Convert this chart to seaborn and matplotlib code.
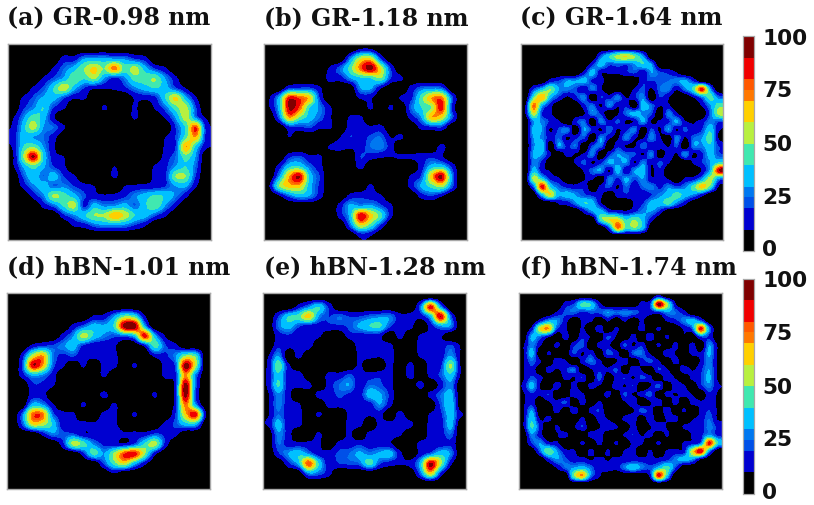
import numpy as np
import matplotlib
matplotlib.use("Agg")
import matplotlib.pyplot as plt
from matplotlib.colors import ListedColormap, BoundaryNorm
import seaborn as sns

titles = ["(a) GR-0.98 nm", "(b) GR-1.18 nm", "(c) GR-1.64 nm",
          "(d) hBN-1.01 nm", "(e) hBN-1.28 nm", "(f) hBN-1.74 nm"]
levels = [0, 10, 20, 25, 30, 40, 50, 60, 70, 75, 80, 90, 100]
level_colors = ["#000000", "#0000d0", "#0050e8", "#0078f0", "#00c0ff", "#40e8b0",
                "#b8f040", "#ffd000", "#ff7800", "#ff5800", "#f00000", "#800000"]
cbar_labels = ["0", "25", "50", "75", "100"]

Z = [0] * 20
Z24 = [0] * 24

panel_a = [
 Z,
 [0,0,0,0,0,15,15,30,32,32,30,28,20,15,0,0,0,0,0,0],
 [0,0,0,0,12,25,35,50,62,50,75,45,55,35,20,12,0,0,0,0],
 [0,0,0,12,22,32,48,42,52,30,18,28,45,45,50,30,14,0,0,0],
 [0,0,12,22,40,58,35,20,12,12,12,18,28,35,40,35,22,10,0,0],
 [0,12,22,32,35,22,12,12,0,0,0,0,12,14,18,40,62,35,12,0],
 [0,18,28,40,20,12,0,0,0,12,0,0,12,0,12,25,45,55,22,0],
 [9,28,45,35,12,0,0,0,0,0,0,0,12,0,0,12,30,55,28,9],
 [12,35,55,30,25,12,0,0,0,0,0,0,0,0,0,0,20,42,80,18],
 [15,35,30,25,15,0,0,0,0,0,0,0,0,0,0,10,20,45,70,18],
 [12,40,50,30,12,0,0,0,0,0,0,0,0,0,0,12,20,70,38,13],
 [9,50,92,40,15,10,0,0,0,0,0,0,0,0,0,15,25,45,30,0],
 [9,32,45,32,20,12,0,0,0,0,10,0,0,0,12,18,30,40,25,0],
 [0,22,38,25,35,20,12,0,0,0,12,0,0,0,14,18,50,50,20,0],
 [0,14,28,35,25,28,20,14,10,0,0,10,12,14,15,20,30,32,12,0],
 [0,0,15,28,52,45,35,22,14,12,14,18,28,35,42,38,28,14,0,0],
 [0,0,0,14,25,42,55,18,35,28,30,35,25,38,48,30,14,0,0,0],
 [0,0,0,0,0,18,28,38,50,52,68,58,40,35,22,12,0,0,0,0],
 [0,0,0,0,0,0,12,15,25,30,30,28,20,12,0,0,0,0,0,0],
 Z,
]

panel_b = [
 [0,0,0,0,0,0,0,0,0,10,10,0,0,0,0,0,0,0,0,0],
 [0,0,0,0,0,0,0,0,28,58,62,22,0,0,0,0,0,0,0,0],
 [0,0,0,0,0,0,12,25,45,75,95,60,20,0,0,0,0,0,0,0],
 [0,0,0,0,0,0,15,15,30,38,40,50,20,12,0,0,0,0,0,0],
 [0,0,20,22,22,12,0,0,0,30,32,12,0,0,14,25,28,25,0,0],
 [9,35,85,78,65,20,0,0,0,12,12,0,0,12,18,45,70,75,25,0],
 [9,35,92,78,40,28,12,0,0,0,12,0,12,0,25,40,50,85,20,0],
 [0,25,70,50,35,25,12,0,12,12,0,0,0,0,15,30,68,60,25,0],
 [0,0,18,18,22,12,12,0,15,15,12,14,0,0,0,14,18,20,0,0],
 [0,0,10,0,0,0,0,10,20,15,22,25,10,12,0,0,0,0,0,0],
 [0,0,0,0,0,0,12,15,12,15,25,28,15,0,0,0,0,14,0,0],
 [0,0,18,22,12,12,0,0,0,20,15,12,10,12,12,15,18,12,0,0],
 [0,15,38,40,25,14,0,0,0,14,0,0,0,0,0,15,35,38,18,0],
 [0,30,70,90,38,20,0,0,0,0,0,0,0,0,12,22,65,92,30,0],
 [9,50,65,65,35,18,0,0,0,0,12,0,0,0,15,32,45,55,25,0],
 [0,9,25,35,30,15,0,0,14,18,15,12,0,0,0,15,20,12,0,0],
 [0,0,0,0,0,0,0,15,32,30,32,22,12,0,0,0,0,0,0,0],
 [0,0,0,0,0,0,0,15,35,88,65,45,14,0,0,0,0,0,0,0],
 [0,0,0,0,0,0,0,0,25,60,45,20,0,0,0,0,0,0,0,0],
 [0,0,0,0,0,0,0,0,0,15,12,0,0,0,0,0,0,0,0,0],
]

panel_c = [
 Z24,
 [0,0,0,0,0,0,0,0,0,25,40,55,60,50,30,0,0,0,0,0,0,0,0,0],
 [0,0,0,0,0,0,0,0,18,35,22,25,22,30,40,30,0,0,0,0,0,0,0,0],
 [0,0,0,0,0,0,0,15,35,12,12,12,18,22,12,30,22,18,10,0,0,0,0,0],
 [0,0,0,15,20,30,30,35,18,15,0,0,0,0,18,20,22,25,28,32,18,0,0,0],
 [0,20,35,50,30,28,22,12,28,12,0,0,0,12,22,9,25,28,12,28,45,85,30,0],
 [0,45,70,35,20,9,18,28,0,20,15,28,9,18,28,0,20,12,0,0,12,28,45,25],
 [9,75,35,15,0,0,0,18,25,9,30,12,18,0,35,25,12,12,0,0,0,12,30,45],
 [9,60,20,12,0,0,0,9,28,18,0,9,25,35,28,22,0,28,12,0,0,0,25,55],
 [0,30,28,18,12,0,18,25,0,28,12,22,9,12,32,9,12,18,32,12,9,15,28,22],
 [0,35,30,9,22,28,0,30,18,9,25,9,18,28,0,22,9,30,9,22,12,20,38,12],
 [0,30,28,15,25,9,18,22,0,30,12,9,28,12,9,28,12,0,28,9,25,30,45,9],
 [0,28,38,0,30,18,25,0,22,25,0,18,9,9,25,12,18,9,22,0,28,28,38,20],
 [0,32,30,12,0,15,9,12,28,0,18,30,25,22,9,28,0,18,9,30,9,18,35,22],
 [0,28,18,0,0,0,12,22,9,18,32,28,30,9,28,12,22,12,0,0,12,20,30,40],
 [0,35,15,9,0,0,0,12,25,30,9,35,12,30,35,9,18,0,0,0,0,12,35,90],
 [0,55,40,18,12,0,0,9,12,0,28,18,32,22,30,12,15,9,0,12,15,30,55,30],
 [0,25,85,40,25,18,15,18,0,15,22,9,25,12,25,28,18,28,22,28,45,65,45,9],
 [0,0,35,60,32,35,30,22,18,12,0,15,18,15,12,20,28,35,45,35,28,15,0,0],
 [0,0,0,0,12,15,28,40,35,12,0,0,0,12,20,35,35,45,28,14,0,0,0,0],
 [0,0,0,0,0,0,0,15,30,35,18,15,12,18,28,30,18,0,0,0,0,0,0,0],
 [0,0,0,0,0,0,0,0,0,45,60,60,40,50,35,15,0,0,0,0,0,0,0,0],
 [0,0,0,0,0,0,0,0,0,0,25,75,45,50,35,0,0,0,0,0,0,0,0,0],
 Z24,
]

panel_d = [
 Z,
 Z,
 [0,0,0,0,0,0,0,0,12,14,30,50,45,12,0,0,0,0,0,0],
 [0,0,0,0,0,0,14,25,35,32,42,95,98,35,0,0,0,0,0,0],
 [0,0,0,0,0,15,30,55,38,28,22,25,35,85,35,10,0,0,0,0],
 [0,0,14,20,22,28,35,18,12,12,12,0,0,14,45,22,14,0,0,0],
 [0,15,55,70,28,18,22,12,14,12,14,0,0,0,14,18,28,50,45,0],
 [0,22,88,70,25,12,0,12,0,14,14,0,12,0,0,14,22,95,55,0],
 [0,15,32,28,15,0,0,0,0,12,0,0,0,0,0,14,18,72,28,0],
 [0,0,18,18,12,0,0,0,0,0,0,0,0,0,0,0,14,95,25,0],
 [0,0,15,15,0,0,0,0,0,14,0,0,0,0,12,0,14,95,22,0],
 [0,0,35,30,12,0,0,12,0,0,12,0,0,0,0,0,15,75,30,0],
 [0,25,75,75,25,14,12,0,0,14,14,0,12,0,0,0,20,65,85,12],
 [0,22,60,55,38,14,12,14,12,15,14,0,0,0,0,14,22,35,35,0],
 [0,0,0,14,28,22,22,12,12,15,18,12,14,14,22,18,14,0,0,0],
 [0,0,0,0,0,18,55,45,28,18,15,12,22,42,55,18,0,0,0,0],
 [0,0,0,0,0,0,0,18,45,30,52,80,85,52,15,0,0,0,0,0],
 [0,0,0,0,0,0,0,0,0,22,45,60,35,14,0,0,0,0,0,0],
 [0,0,0,0,0,0,0,0,0,0,10,0,0,0,0,0,0,0,0,0],
 Z,
]

panel_e = [
 Z,
 [0,0,0,15,28,40,18,0,0,0,0,0,0,0,0,25,85,30,0,0],
 [0,20,40,45,65,30,20,25,20,20,25,28,28,14,15,14,35,90,25,0],
 [0,25,35,22,15,15,18,18,22,32,40,42,22,14,14,0,14,30,28,0],
 [0,14,18,12,14,12,0,0,15,15,15,14,0,14,0,12,14,12,0,0],
 [0,18,14,12,15,0,0,0,0,15,12,15,14,0,0,14,12,14,22,9],
 [9,30,0,14,0,0,0,0,0,12,14,12,15,0,0,12,14,14,30,9],
 [12,48,14,0,0,0,0,0,0,12,0,0,14,0,14,0,15,18,52,9],
 [12,38,15,18,0,0,14,14,22,14,15,18,14,0,15,0,14,22,38,9],
 [12,42,14,15,14,0,15,25,30,14,25,22,14,0,0,14,0,15,28,0],
 [9,28,14,0,0,14,14,22,18,15,35,32,18,0,0,0,14,25,35,0],
 [9,28,14,12,0,0,14,14,14,14,15,30,14,0,0,0,0,22,38,0],
 [9,25,14,14,0,12,0,0,12,14,12,14,0,15,0,0,12,18,35,12],
 [12,35,14,14,0,0,0,0,14,14,0,14,14,14,14,0,14,15,35,0],
 [0,28,15,0,0,12,0,0,12,0,14,14,15,12,0,0,14,15,25,0],
 [0,25,15,14,14,12,0,14,15,18,14,14,12,0,0,14,12,14,18,0],
 [0,18,30,38,28,15,15,22,25,32,28,32,35,14,0,14,25,38,28,0],
 [0,0,18,35,80,40,14,20,22,25,45,22,15,12,14,35,92,55,14,0],
 [0,0,0,0,30,25,14,0,0,0,0,0,0,0,0,25,65,20,0,0],
 Z,
]

panel_f = [
 [0,0,0,0,0,0,0,0,0,0,0,0,0,0,0,0,15,0,0,0,0,0,0,0],
 [0,0,0,0,0,15,22,45,40,15,0,0,0,0,15,20,95,55,12,0,0,0,0,0],
 [0,0,0,0,12,22,25,18,22,22,30,25,28,25,18,15,18,28,25,15,0,0,0,0],
 [0,0,15,30,30,15,0,12,12,0,12,0,12,0,12,0,0,12,18,28,35,22,0,0],
 [0,15,60,70,22,12,0,12,0,18,0,12,0,0,15,0,12,0,0,12,25,85,28,0],
 [0,32,25,12,0,15,0,18,9,0,22,9,0,15,0,18,0,12,0,9,0,22,18,0],
 [9,28,12,0,14,0,18,24,0,15,14,0,22,9,18,0,12,0,14,0,15,0,30,9],
 [9,35,0,12,0,0,22,9,18,0,24,15,0,24,26,9,0,18,9,0,14,12,32,9],
 [9,25,12,0,18,12,0,15,26,14,0,9,18,0,15,22,12,0,15,0,0,12,28,9],
 [9,18,0,15,9,18,26,0,9,18,12,22,0,18,9,0,20,12,0,18,9,18,30,9],
 [9,22,14,0,0,14,9,20,0,24,0,14,20,9,22,14,0,18,9,0,14,20,32,9],
 [12,35,9,0,18,0,15,0,14,9,0,18,9,20,0,9,24,0,18,12,0,18,28,12],
 [9,18,12,20,0,0,18,12,0,0,15,0,22,9,14,24,0,14,9,15,9,0,18,9],
 [9,15,0,9,14,22,0,15,0,12,0,0,9,18,0,9,18,0,15,0,14,12,15,9],
 [9,30,0,0,15,0,18,0,14,20,0,0,0,9,24,15,0,18,0,12,0,12,20,9],
 [9,38,9,14,0,0,0,12,0,15,9,0,14,18,0,18,0,12,15,0,9,14,25,9],
 [9,42,18,0,12,0,9,20,0,9,18,12,0,15,0,9,20,9,0,12,14,15,28,18],
 [0,28,14,0,9,14,0,0,15,18,0,0,12,20,9,14,0,12,0,0,12,18,30,18],
 [0,20,30,15,12,0,0,12,0,14,0,12,0,14,12,0,12,0,0,12,15,25,85,40],
 [0,0,25,50,30,14,12,0,14,0,12,0,12,14,0,12,0,12,14,15,60,88,30,0],
 [0,0,0,18,30,22,15,15,9,14,9,14,12,15,14,12,14,18,28,35,30,10,0,0],
 [0,0,0,0,12,25,30,35,25,12,18,14,28,38,28,22,35,45,22,0,0,0,0,0],
 [0,0,0,0,0,0,50,70,28,12,0,0,0,0,0,15,85,40,0,0,0,0,0,0],
 Z24,
]

panels = [panel_a, panel_b, panel_c, panel_d, panel_e, panel_f]
W, H = 814, 506
boxes = [(8, 45, 203, 196), (263.5, 45, 203, 196), (520.5, 45, 202, 196),
         (7, 293.5, 203, 196), (263, 293.5, 203, 196), (519, 293.5, 203, 196)]
title_x = [7, 264, 520, 7, 264, 520]
title_y = [25, 25, 25, 274, 274, 274]
cbar_boxes = {2: (742.5, 37, 11.5, 215), 5: (742.5, 279.5, 11.5, 215)}

cmap = ListedColormap(level_colors)
norm = BoundaryNorm(levels, cmap.N)


def px_axes(fig, box):
    x, y, w, h = box
    return fig.add_axes([x / W, 1 - (y + h) / H, w / W, h / H])


sns.set_theme(style="white")
fig = plt.figure(figsize=(W / 100, H / 100), dpi=100, facecolor="white")

for i, (data, box, title) in enumerate(zip(panels, boxes, titles)):
    arr = np.array(data, dtype=float)
    ax = px_axes(fig, box)
    cax = px_axes(fig, cbar_boxes[i]) if i in cbar_boxes else None
    sns.heatmap(arr, ax=ax, cmap=cmap, norm=norm, cbar=cax is not None, cbar_ax=cax,
                cbar_kws={"spacing": "proportional", "drawedges": False} if cax is not None else None,
                xticklabels=False, yticklabels=False, square=False)
    n_r, n_c = arr.shape
    ax.imshow(arr, extent=(0, n_c, n_r, 0), cmap=cmap, norm=norm, aspect="auto",
              interpolation="catrom", interpolation_stage="data", zorder=2)
    ax.set_xticks([])
    ax.set_yticks([])
    for s in ax.spines.values():
        s.set_visible(True)
        s.set_color("#a8a8a8")
        s.set_linewidth(1.0)
        s.set_zorder(5)
    fig.text(title_x[i] / W, 1 - title_y[i] / H, title, family="DejaVu Serif",
             weight="bold", fontsize=17, color="#111111", ha="left", va="baseline")
    if cax is not None:
        cax.yaxis.set_ticks_position("right")
        cax.set_yticks([1.7, 26.2, 50.6, 75.6, 100], labels=cbar_labels)
        cax.tick_params(axis="y", which="major", length=0, pad=6, labelsize=15.6, labelcolor="#111111")
        for lab in cax.get_yticklabels():
            lab.set_family("DejaVu Sans")
            lab.set_weight("bold")
        cax.set_yticks([25, 50, 75], minor=True)
        cax.tick_params(axis="y", which="minor", length=11.5 * 0.72, width=0.7,
                        color="#222222", direction="in", right=True)
        for s in cax.spines.values():
            s.set_visible(True)
            s.set_color("#a8a8a8")
            s.set_linewidth(0.8)

fig.savefig("out.png", dpi=100, facecolor="white")
